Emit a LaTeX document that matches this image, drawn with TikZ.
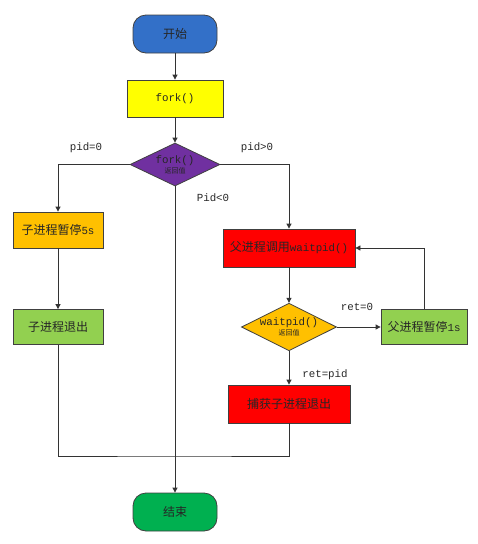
\documentclass[tikz,border=0pt]{standalone}
\usepackage{fontspec}
\setmainfont{Liberation Mono}[Scale=0.9]
\newfontfamily\cjk{Noto Sans CJK SC}
\newcommand\tinycjk{\fontsize{7}{8}\selectfont\cjk}
\usetikzlibrary{shapes.geometric,arrows.meta}
\definecolor{startblue}{RGB}{51,112,200}
\definecolor{forkyellow}{RGB}{255,255,0}
\definecolor{forkpurple}{RGB}{112,48,160}
\definecolor{waitorange}{RGB}{255,192,0}
\definecolor{lightgreen}{RGB}{146,208,80}
\definecolor{boxred}{RGB}{255,0,0}
\definecolor{endgreen}{RGB}{0,176,80}
\begin{document}
\begin{tikzpicture}[x=1pt,y=-1pt,
  txt/.style={font=\fontsize{12}{13}\selectfont,text=black!85},
  term/.style={txt,draw=black!75,line width=.8pt,rounded corners=13pt,minimum width=84pt,minimum height=38pt,inner sep=0pt},
  box/.style={txt,draw=black!75,line width=.8pt,minimum height=36pt,inner sep=0pt},
  decide/.style={txt,diamond,aspect=2,draw=black!75,line width=.8pt,inner sep=0pt,align=center},
  flow/.style={line width=.8pt,draw=black!80},
  arr/.style={flow,-{Triangle[length=5pt,width=5pt]}}]
\useasboundingbox (0,0) rectangle (478,544);
\node[term,fill=startblue] (start) at (175,34) {\cjk 开始};
\node[box,fill=forkyellow,minimum width=96pt,minimum height=37pt] (fork) at (175,98.5) {fork()};
\node[decide,fill=forkpurple,minimum width=90pt,minimum height=43pt] (forkret) at (175,164.5) {fork()\\[-3pt]{\tinycjk 返回值}};
\node[box,fill=waitorange,minimum width=90pt] (childsleep) at (58,230) {{\cjk 子进程暂停}5s};
\node[box,fill=lightgreen,minimum width=90pt,minimum height=35pt] (childexit) at (58,327) {\cjk 子进程退出};
\node[box,fill=boxred,minimum width=132pt,minimum height=38pt] (waitcall) at (289,248) {{\cjk 父进程调用}waitpid()};
\node[decide,fill=waitorange,minimum width=92pt,minimum height=44pt] (waitret) at (289,327) {waitpid()\\[-3pt]{\tinycjk 返回值}};
\node[box,fill=lightgreen,minimum width=86pt,minimum height=35pt] (parentsleep) at (424,327) {{\cjk 父进程暂停}1s};
\node[box,fill=boxred,minimum width=122pt,minimum height=38pt] (catch) at (289,404) {\cjk 捕获子进程退出};
\node[term,fill=endgreen] (end) at (175,512) {\cjk 结束};
\node[txt] (lbl0) at (86,148) {pid=0}; \node[txt] (lblgt) at (257,148) {pid>0};
\node[txt] (lbllt) at (213,198) {Pid<0}; \node[txt] (lblret0) at (357,307) {ret=0};
\node[txt] (lblretpid) at (325,375) {ret=pid};
\coordinate (join) at (175,456);
\draw[arr] (start) -- (fork); \draw[arr] (fork) -- (forkret);
\draw[arr] (forkret.west) -| (childsleep.north); \draw[arr] (childsleep) -- (childexit);
\draw[arr] (forkret.east) -| (waitcall.north); \draw[arr] (forkret.south) -- (end.north);
\draw[arr] (waitcall) -- (waitret); \draw[arr] (waitret.east) -- (parentsleep.west);
\draw[arr] (parentsleep.north) |- (waitcall.east); \draw[arr] (waitret.south) -- (catch.north);
\draw[flow] (childexit.south) |- (join) -| (catch.south);
\end{tikzpicture}
\end{document}
